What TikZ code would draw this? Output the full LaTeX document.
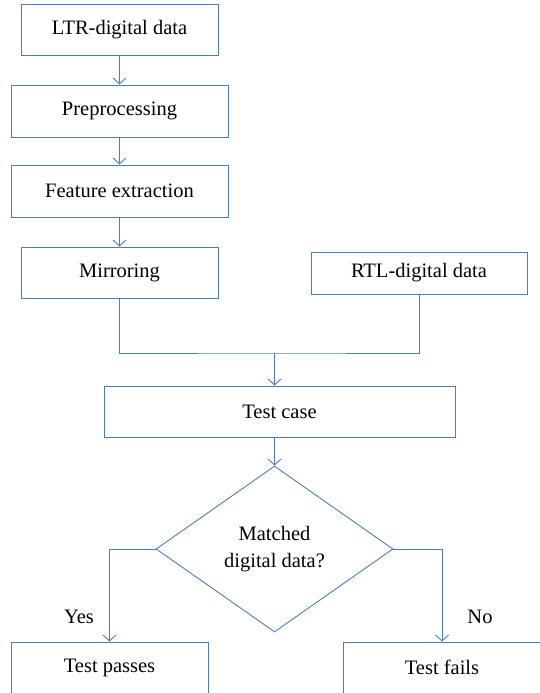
\documentclass[tikz,border=0pt]{standalone}
\usepackage{fontspec}
\setmainfont{Liberation Serif}
\usetikzlibrary{arrows.meta,shapes.geometric}
\definecolor{flowblue}{RGB}{74,126,187}
\tikzset{
  x=1pt, y=1pt,
  every node/.style={font=\fontsize{20.5}{27}\selectfont, text=black},
  box/.style={draw=flowblue, line width=0.9pt, rectangle, inner sep=0pt,
              minimum width=197pt, minimum height=51pt, align=center},
  decision/.style={draw=flowblue, line width=0.9pt, diamond, inner sep=0pt,
                   minimum width=237pt, minimum height=166pt, align=center},
  flow/.style={draw=flowblue, line width=0.9pt,
               -{Straight Barb[length=6pt,width=13pt,line width=0.9pt]}},
  link/.style={draw=flowblue, line width=0.9pt},
}
\begin{document}
\begin{tikzpicture}
\useasboundingbox (0,0) rectangle (539,-693);

% left column of processing steps
\node[box] (ltr) at (119.5,-29.5) {LTR-digital data};
\node[box, minimum width=217pt, minimum height=52pt] (pre) at (119.5,-111) {Preprocessing};
\node[box, minimum width=217pt, minimum height=52pt] (fe)  at (119.5,-191) {Feature extraction};
\node[box] (mir) at (119.5,-272.5) {Mirroring};

% reference data on the right
\node[box, minimum width=216pt, minimum height=42pt] (rtl) at (419,-273) {RTL-digital data};

% comparison stage
\node[box, minimum width=351pt] (tc) at (279.5,-411.5) {Test case};
\node[decision] (dia) at (274.5,-549) {Matched\\digital data?};

% outcomes
\node[box] (tp) at (109.5,-667.5) {Test passes};
\node[box] (tf) at (442,-667.5) {Test fails};
\node (yes) at (79,-617) {Yes};
\node (no)  at (480,-617) {No};

% connectors
\draw[flow] (ltr) -- (pre);
\draw[flow] (pre) -- (fe);
\draw[flow] (fe) -- (mir);
\coordinate (join) at (274.5,-353);
\draw[link] (mir.south) |- (join) -| (rtl.south);
\draw[flow] (join) -- (join |- tc.north);
\draw[flow] (tc.south -| dia.north) -- (dia.north);
\draw[flow] (dia.west) -| (tp.north);
\draw[flow] (dia.east) -| (tf.north);
\end{tikzpicture}
\end{document}
